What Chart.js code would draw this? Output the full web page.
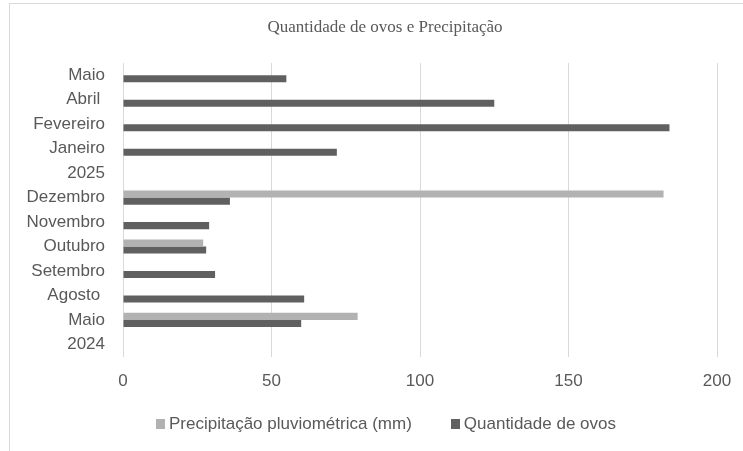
<!DOCTYPE html>
<html>
<head>
<meta charset="utf-8">
<script src="https://cdn.jsdelivr.net/npm/chart.js@4"></script>
<style>
  body { margin: 0; background: #fff; }
  #frame {
    position: absolute; left: 9px; top: 3px; width: 760px; height: 460px;
    border-top: 1px solid #d9d9d9; border-left: 1px solid #d9d9d9;
  }
  canvas { position: absolute; left: 0; top: 0; }
  #title {
    position: absolute; left: 0; top: 17px; width: 770px; line-height: 20px;
    text-align: center; white-space: nowrap;
    font-family: 'Liberation Serif', 'Times New Roman', serif; font-size: 17px; color: #595959;
  }
  #legend {
    position: absolute; left: 156px; top: 414px;
    display: flex; align-items: center;
    font-family: 'Liberation Sans', Arial, sans-serif; font-size: 17px; color: #595959;
  }
  #legend .item { display: flex; align-items: center; margin-right: 39px; }
  #legend .box { width: 9px; height: 10px; margin-right: 4px; }
</style>
</head>
<body>
<div id="frame"></div>
<canvas id="chart" width="743" height="451"></canvas>
<div id="title"></div>
<div id="legend"></div>
<script>
const chartTitle = "Quantidade de ovos e Precipitação";

// chronological order, bottom to top in the chart
const categories = ["2024", "Maio", "Agosto ", "Setembro", "Outubro", "Novembro",
  "Dezembro", "2025", "Janeiro", "Fevereiro", "Abril ", "Maio"];
const precipitacao = [null, 79, null, null, 27, null, 182, null, null, null, null, null];
const ovos = [null, 60, 61, 31, 28, 29, 36, null, 72, 184, 125, 55];
const xTicks = [0, 50, 100, 150, 200];

const seriesNames = ["Precipitação pluviométrica (mm)", "Quantidade de ovos"];
const seriesColors = ["rgb(178, 178, 178)", "rgb(96, 96, 96)"];

const textColor = "#595959";
const sansFont = "'Liberation Sans', Arial, sans-serif";

document.getElementById("title").textContent = chartTitle;

const ctx = document.getElementById("chart").getContext("2d");

new Chart(ctx, {
  type: "bar",
  data: {
    labels: categories,
    datasets: [
      {
        label: seriesNames[0],
        data: precipitacao,
        backgroundColor: seriesColors[0],
        categoryPercentage: 0.58,
        barPercentage: 1.0,
      },
      {
        label: seriesNames[1],
        data: ovos,
        backgroundColor: seriesColors[1],
        categoryPercentage: 0.58,
        barPercentage: 1.0,
      },
    ],
  },
  options: {
    indexAxis: "y",
    responsive: false,
    animation: false,
    layout: { padding: { left: 0, right: 26, top: 63, bottom: 44 } },
    plugins: {
      title: { display: false },
      legend: { display: false },
      tooltip: { enabled: false },
    },
    scales: {
      x: {
        min: 0,
        max: 200,
        afterBuildTicks: (scale) => {
          scale.ticks = xTicks.map((v) => ({ value: v }));
        },
        afterFit: (scale) => {
          // the "200" label overhang should not shrink the plot
          scale.paddingRight = 0;
        },
        grid: { color: "#d9d9d9", drawTicks: false },
        border: { display: false },
        ticks: {
          color: textColor,
          font: { family: sansFont, size: 17 },
          padding: 15,
        },
      },
      y: {
        reverse: true,
        grid: { display: false, drawTicks: false },
        border: { display: false },
        afterFit: (scale) => {
          scale.width = 123;
        },
        ticks: {
          autoSkip: false,
          color: textColor,
          font: { family: sansFont, size: 17 },
          padding: 18,
        },
      },
    },
  },
});

// legend built from the series names and colours
const legend = document.getElementById("legend");
seriesNames.forEach((name, i) => {
  const item = document.createElement("div");
  item.className = "item";
  const box = document.createElement("span");
  box.className = "box";
  box.style.background = seriesColors[i];
  const label = document.createElement("span");
  label.textContent = name;
  item.appendChild(box);
  item.appendChild(label);
  legend.appendChild(item);
});
</script>
</body>
</html>
